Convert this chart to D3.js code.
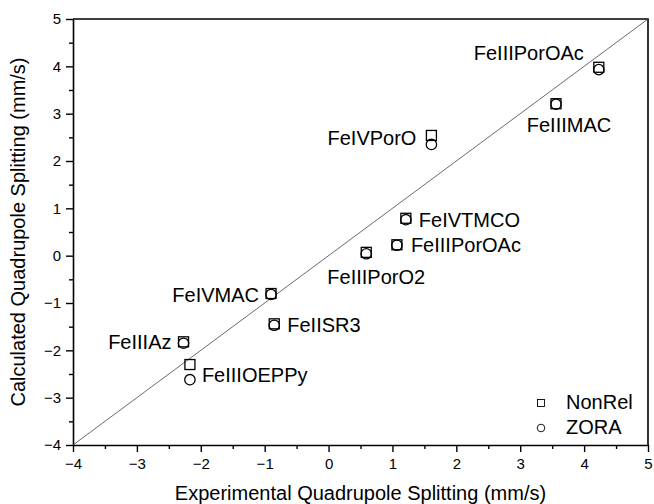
<!DOCTYPE html>
<html>
<head>
<meta charset="utf-8">
<script src="https://cdn.jsdelivr.net/npm/d3@7"></script>
<style>
body{margin:0;background:#fff;}
text{font-family:"Liberation Sans",Arial,sans-serif;fill:#000;}
</style>
</head>
<body>
<svg id="chart" width="654" height="504"></svg>
<script>
// compounds, measured vs calculated quadrupole splittings (mm/s)
var names = ["FeIIIPorOAc","FeIIIMAC","FeIVPorO","FeIVTMCO","FeIIIPorOAc","FeIIIPorO2","FeIVMAC","FeIISR3","FeIIIAz","FeIIIOEPPy"];
var expQS = [4.23, 3.56, 1.61, 1.21, 1.07, 0.59, -0.9, -0.85, -2.27, -2.17];
var nonRel = [3.98, 3.21, 2.54, 0.79, 0.23, 0.07, -0.8, -1.44, -1.82, -2.3];
var zora = [3.93, 3.2, 2.35, 0.76, 0.22, 0.04, -0.82, -1.47, -1.85, -2.62];
var ticks = [-4,-3,-2,-1,0,1,2,3,4,5];
var seriesNames = ["NonRel","ZORA"];

// where each label sits relative to its square (layout only)
var labelLayout = [
	{anchor:"end", dx:-15, dy:-7},
	{anchor:"middle", dx:13, dy:28},
	{anchor:"end", dx:-15, dy:10},
	{anchor:"start", dx:13, dy:9},
	{anchor:"start", dx:14, dy:7},
	{anchor:"middle", dx:10, dy:32},
	{anchor:"end", dx:-12, dy:8},
	{anchor:"start", dx:13, dy:8},
	{anchor:"end", dx:-12, dy:7},
	{anchor:"start", dx:12, dy:17}
];

var LEFT=73, RIGHT=648, TOP=19, BOTTOM=445;
var svg=d3.select("#chart");

var x=d3.scaleLinear().domain([-4,5]).range([LEFT,RIGHT]);
var y=d3.scaleLinear().domain([-4,5]).range([BOTTOM,TOP]);

// minor ticks first (no labels)
var minor=d3.range(-4,5.01,0.5).filter(function(v){return v%1!==0;});
svg.append("g")
	.attr("transform","translate(0,"+BOTTOM+")")
	.call(d3.axisBottom(x).tickValues(minor).tickSize(4).tickFormat(""))
	.call(function(g){g.select(".domain").remove();});
svg.append("g")
	.attr("transform","translate("+LEFT+",0)")
	.call(d3.axisLeft(y).tickValues(minor).tickSize(4).tickFormat(""))
	.call(function(g){g.select(".domain").remove();});

var xAxis=svg.append("g")
	.attr("transform","translate(0,"+BOTTOM+")")
	.call(d3.axisBottom(x).tickValues(ticks).tickSize(7).tickPadding(6).tickSizeOuter(0));
var yAxis=svg.append("g")
	.attr("transform","translate("+LEFT+",0)")
	.call(d3.axisLeft(y).tickValues(ticks).tickSize(7).tickPadding(5).tickSizeOuter(0));

svg.selectAll(".tick line").attr("stroke","#000").attr("stroke-width",1.4);
svg.selectAll(".domain").attr("stroke","#000").attr("stroke-width",1.6);
svg.selectAll(".tick text").style("font-size","15px").style("font-family","'Liberation Sans',Arial,sans-serif");

// top and right frame
svg.append("path")
	.attr("d","M"+LEFT+","+TOP+"H"+RIGHT+"V"+BOTTOM)
	.attr("fill","none").attr("stroke","#000").attr("stroke-width",1.6);

// y = x reference line
svg.append("line")
	.attr("x1",x(-4)).attr("y1",y(-4))
	.attr("x2",x(5)).attr("y2",y(5))
	.attr("stroke","#444").attr("stroke-width",0.8);

// points
var pts=svg.append("g");
pts.selectAll("circle").data(expQS).enter().append("circle")
	.attr("cx",function(d){return x(d);})
	.attr("cy",function(d,i){return y(zora[i]);})
	.attr("r",5.2)
	.attr("fill","#fff").attr("stroke","#000").attr("stroke-width",1.3);
pts.selectAll("rect").data(expQS).enter().append("rect")
	.attr("x",function(d){return x(d)-5;})
	.attr("y",function(d,i){return y(nonRel[i])-5;})
	.attr("width",10).attr("height",10)
	.attr("fill","none").attr("stroke","#000").attr("stroke-width",1.3);

// labels
svg.append("g").selectAll("text").data(names).enter().append("text")
	.attr("x",function(d,i){return x(expQS[i])+labelLayout[i].dx;})
	.attr("y",function(d,i){return y(nonRel[i])+labelLayout[i].dy;})
	.attr("text-anchor",function(d,i){return labelLayout[i].anchor;})
	.style("font-size","20px")
	.text(function(d){return d;});

// legend
var leg=svg.append("g").attr("transform","translate(541,403)");
leg.append("rect").attr("x",-3.5).attr("y",-3.5).attr("width",7).attr("height",7)
	.attr("fill","none").attr("stroke","#000").attr("stroke-width",0.9);
leg.append("circle").attr("cx",0).attr("cy",25).attr("r",3.8)
	.attr("fill","none").attr("stroke","#000").attr("stroke-width",0.9);
leg.selectAll("text").data(seriesNames).enter().append("text")
	.attr("x",25).attr("y",function(d,i){return 6+i*25;})
	.style("font-size","20px")
	.text(function(d){return d;});

// axis titles
svg.append("text")
	.attr("x",(LEFT+RIGHT)/2).attr("y",500)
	.attr("text-anchor","middle").style("font-size","20px")
	.text("Experimental Quadrupole Splitting (mm/s)");
svg.append("text")
	.attr("transform","translate(25,"+((TOP+BOTTOM)/2)+") rotate(-90)")
	.attr("text-anchor","middle").style("font-size","20px")
	.text("Calculated Quadrupole Splitting (mm/s)");
</script>
</body>
</html>
